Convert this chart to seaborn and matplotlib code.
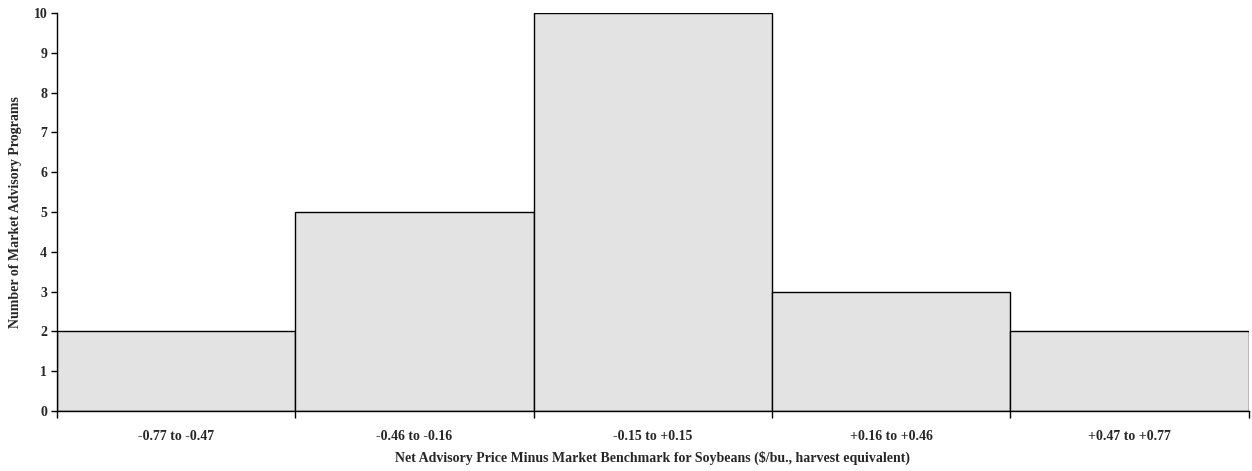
import matplotlib
matplotlib.use('Agg')
import matplotlib.pyplot as plt
import seaborn as sns
import pandas as pd
import numpy as np

# --- données ---
categories = ["-0.77 to -0.47", "-0.46 to -0.16", "-0.15 to +0.15", "+0.16 to +0.46", "+0.47 to +0.77"]
counts = [2, 5, 10, 3, 2]
y_ticks = list(range(0, 11))

df = pd.DataFrame({"range": categories, "count": counts})

sns.set_theme(style="white")
plt.rcParams['font.family'] = ['Liberation Serif', 'DejaVu Serif']
plt.rcParams['font.weight'] = 'bold'

fig = plt.figure(figsize=(12.52, 4.71), dpi=100)
ax = fig.add_axes([0.0455, 0.1274, 0.952, 0.845])

sns.barplot(data=df, x="range", y="count", color="#e3e3e3", saturation=1,
            width=1.0, edgecolor="black", linewidth=1.0, ax=ax)

ax.set_xlim(-0.5, len(categories) - 0.5)
ax.set_ylim(0, 10)
ax.set_yticks(y_ticks)
ax.set_yticklabels([str(v) for v in y_ticks], fontsize=10, fontweight='bold')
ax.set_xticks(range(len(categories)))
ax.set_xticklabels(categories, fontsize=10, fontweight='bold')
ax.tick_params(axis='x', which='major', length=0, pad=14)
# petits traits aux limites des classes
ax.set_xticks(np.arange(-0.5, len(categories)), minor=True)
ax.tick_params(axis='x', which='minor', length=5, width=1, color='black', direction='out', bottom=True)
ax.tick_params(axis='y', length=4, width=1, color='black', direction='out', left=True, pad=3)

for s in ['top', 'right']:
    ax.spines[s].set_visible(False)
for s in ['left', 'bottom']:
    ax.spines[s].set_color('black')
    ax.spines[s].set_linewidth(1.0)

ax.set_xlabel("Net Advisory Price Minus Market Benchmark for Soybeans ($/bu., harvest equivalent)",
              fontsize=10, fontweight='bold', labelpad=5)
ax.set_ylabel("Number of Market Advisory Programs", fontsize=10, fontweight='bold', labelpad=8)

fig.savefig("out.png", dpi=100)
